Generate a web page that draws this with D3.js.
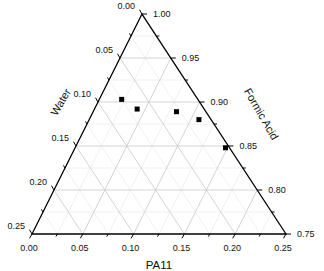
<!DOCTYPE html>
<html>
<head>
<meta charset="utf-8">
<script src="https://cdn.jsdelivr.net/npm/d3@7"></script>
<style>
  body { margin: 0; background: #fff; }
  text { font-family: "Liberation Sans", Arial, sans-serif; fill: #111; }
</style>
</head>
<body>
<div id="ternary"></div>
<script>
// compositions (mass fractions), Formic Acid = 1 - PA11 - Water
const pa11Values  = [0.022, 0.042, 0.082, 0.108, 0.148];
const waterValues = [0.075, 0.066, 0.029, 0.012, 0.004];

const majorTicks = [0, 0.05, 0.10, 0.15, 0.20, 0.25];
const minorTicks = [0.025, 0.075, 0.125, 0.175, 0.225];
const axisTitles = ["PA11", "Water", "Formic Acid"];

const width = 324, height = 271;
const left = { x: 32, y: 234 };   // bottom-left corner
const W = 254, H = W * Math.sqrt(3) / 2;

/*******************/
/*     Scales      */
/*******************/
const pScale = d3.scaleLinear().domain([0, 0.25]).range([0, W]);      // PA11 along bottom
const fScale = d3.scaleLinear().domain([0.75, 1]).range([0, H]);      // Formic acid, height

// ternary -> screen
const pos = (p, w) => {
  const f = 1 - p - w;
  return [left.x + pScale(p) + fScale(f) / 2, left.y - fScale(f)];
};

const svg = d3.select("#ternary")
  .append("svg")
    .attr("width", width)
    .attr("height", height);

/*******************/
/*    Gridlines    */
/*******************/
const grid = svg.append("g").attr("class", "grid").attr("fill", "none");
const gridLines = (vals, colour) => {
  vals.forEach(v => {
    if (v <= 0 || v >= 0.25) return;
    const segs = [
      [pos(v, 0), pos(v, 0.25 - v)],          // constant PA11
      [pos(0, v), pos(0.25 - v, v)],          // constant Water
      [pos(0, 0.25 - v), pos(0.25 - v, 0)]    // constant Formic Acid
    ];
    segs.forEach(s => {
      grid.append("line")
        .attr("x1", s[0][0]).attr("y1", s[0][1])
        .attr("x2", s[1][0]).attr("y2", s[1][1])
        .attr("stroke", colour)
        .attr("stroke-width", 0.8);
    });
  });
};
gridLines(minorTicks, "#ececec");
gridLines(majorTicks, "#c9c9c9");

/*******************/
/*    Triangle     */
/*******************/
const corners = [pos(0, 0.25), pos(0.25, 0), pos(0, 0)];
svg.append("path")
  .attr("d", d3.line()(corners) + "Z")
  .attr("fill", "none")
  .attr("stroke", "#000")
  .attr("stroke-width", 1.3);

/*******************/
/*   Ticks/labels  */
/*******************/
const s3 = Math.sqrt(3) / 2;
const axes = [
  { // bottom: PA11
    at: v => pos(v, 0.25 - v), dir: [-0.5, s3],
    label: v => v.toFixed(2), dx: -3, dy: 17, anchor: "middle"
  },
  { // left: Water
    at: v => pos(0, v), dir: [-0.5, -s3],
    label: v => v.toFixed(2), dx: -7, dy: -5, anchor: "end"
  },
  { // right: Formic Acid (0.75 at bottom corner)
    at: v => pos(0.25 - v, 0), dir: [1, 0],
    label: v => (0.75 + v).toFixed(2), dx: 11, dy: 3, anchor: "start"
  }
];

const ticks = svg.append("g").attr("stroke", "#000").attr("stroke-width", 1);
axes.forEach(a => {
  majorTicks.concat(minorTicks).forEach(v => {
    const len = majorTicks.includes(v) ? 5 : 3;
    const p = a.at(v);
    ticks.append("line")
      .attr("x1", p[0]).attr("y1", p[1])
      .attr("x2", p[0] + a.dir[0] * len).attr("y2", p[1] + a.dir[1] * len);
  });
  svg.append("g")
    .selectAll("text")
    .data(majorTicks)
    .join("text")
      .attr("x", v => a.at(v)[0] + a.dx)
      .attr("y", v => a.at(v)[1] + a.dy)
      .attr("text-anchor", a.anchor)
      .attr("font-size", 9)
      .text(a.label);
});

// axis titles
svg.append("text")
  .attr("x", left.x + W / 2)
  .attr("y", 269)
  .attr("text-anchor", "middle")
  .attr("font-size", 11.5)
  .text(axisTitles[0]);

svg.append("text")
  .attr("transform", "translate(64,104) rotate(-60)")
  .attr("text-anchor", "middle")
  .attr("font-size", 11)
  .text(axisTitles[1]);

svg.append("text")
  .attr("transform", "translate(258,116) rotate(60)")
  .attr("text-anchor", "middle")
  .attr("font-size", 11)
  .text(axisTitles[2]);

/*******************/
/*   Data points   */
/*******************/
svg.append("g")
  .selectAll("rect")
  .data(pa11Values.map((p, i) => pos(p, waterValues[i])))
  .join("rect")
    .attr("x", d => d[0] - 2.5)
    .attr("y", d => d[1] - 2.5)
    .attr("width", 5)
    .attr("height", 5)
    .attr("fill", "#000");
</script>
</body>
</html>
